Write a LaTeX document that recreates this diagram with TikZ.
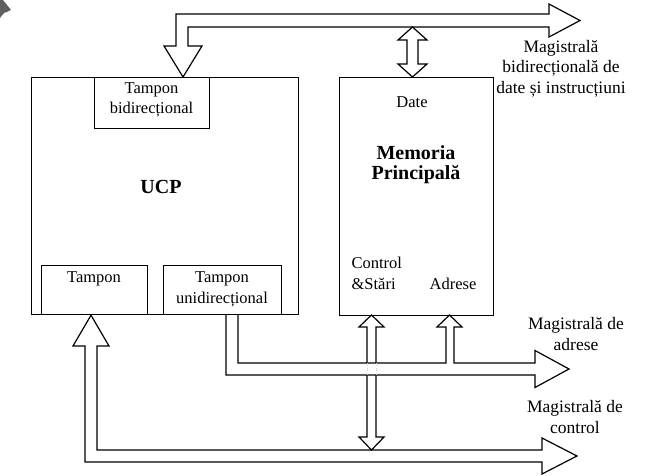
\documentclass[tikz,border=0pt]{standalone}
\usepackage{fontspec}
\setmainfont{Liberation Serif}
\begin{document}
\begin{tikzpicture}[x=1pt,y=-1pt,line width=1.2pt,line join=miter,
  box/.style={draw,line width=1.2pt,inner sep=0pt,anchor=north west},
  lbl/.style={font=\fontsize{16.5}{20.5}\selectfont,align=center,inner sep=0pt},
  buslbl/.style={font=\fontsize{17.5}{20.5}\selectfont,align=center,inner sep=0pt},
  big/.style={font=\fontsize{20}{21}\selectfont\bfseries,align=center,inner sep=0pt},
  bus/.style={draw,line width=1.2pt}]
\useasboundingbox (0,0) rectangle (654,476);
% cursor artifact
\fill[gray!75!black] (0,0)--(3,0)--(11,10)--(7,12)--(4,13)--(0,18)--cycle;
% boxes
\node[box,minimum width=267pt,minimum height=237pt] (ucp) at (31,77) {};
\node[box,minimum width=115pt,minimum height=51pt] (tbd) at (94,77) {};
\node[box,minimum width=106pt,minimum height=49pt] (tp) at (41,265) {};
\node[box,minimum width=118pt,minimum height=49pt] (tud) at (163,265) {};
\node[box,minimum width=154pt,minimum height=238pt] (mem) at (339,77) {};
% texts
\node[lbl] (ttbd) at (151.5,100) {Tampon\\bidirecțional};
\node[big] (tucp) at (161,187) {UCP};
\node[lbl] (ttp) at (94,279) {Tampon};
\node[lbl] (ttud) at (222,289.5) {Tampon\\unidirecțional};
\node[lbl] (tdate) at (412,102) {Date};
\node[big,font=\fontsize{20}{20}\selectfont\bfseries] (tmem) at (416,165) {Memoria\\Principală};
\node[lbl,anchor=west,align=left] (tctl) at (351,273.5) {Control\\\&Stări};
\node[lbl] (tadr) at (453,284) {Adrese};
\node[buslbl] (lbd) at (561,68.5) {Magistrală\\bidirecțională de\\date și instrucțiuni};
\node[buslbl] (lad) at (576,334) {Magistrală de\\adrese};
\node[buslbl] (lct) at (575,417) {Magistrală de\\control};
% data bus
\coordinate (dtip) at (tbd.north -| 183,0);
\draw[bus] (dtip)--(202,46)--(188,46)--(188,27)--(549,27)--(549,37)--(580,20.5)
  --(549,4)--(549,14)--(176,14)--(176,46)--(164,46)--cycle;
% memory data arrow
\draw[bus] (412.5,27)--(427,40)--(418,40)--(418,64)--(427,64)--(412.5,77)
  --(398,64)--(407,64)--(407,40)--(398,40)--cycle;
% address bus
\draw[bus] (tud.south -| 238,0)--(238,363)--(446,363)--(446,327)--(437,327)--(449.5,315)
  --(462,327)--(454,327)--(454,363)--(535,363)--(535,350.5)--(569,369)--(535,387.5)
  --(535,375)--(226,375)--(tud.south -| 226,0);
% control bus
\draw[bus] (tp.south -| 91,0)--(109,346)--(97,346)--(97,450)--(542,450)--(542,438)
  --(577,456)--(542,474)--(542,462)--(85,462)--(85,346)--(73,346)--cycle;
% memory control arrow
\draw[bus] (367,363)--(367,327)--(359,327)--(371.5,315)--(384,327)--(376,327)--(376,363);
\draw[bus] (367,375)--(367,437)--(359,437)--(371.5,450)--(384,437)--(376,437)--(376,375);
\draw[gray!30,line width=0.6pt,dash pattern=on 3pt off 2pt] (367,363)--(367,375) (376,363)--(376,375);
\end{tikzpicture}
\end{document}
